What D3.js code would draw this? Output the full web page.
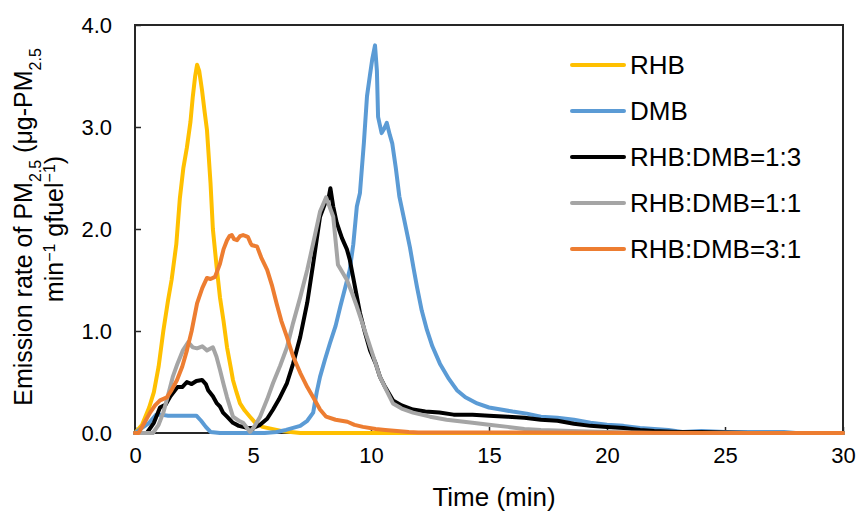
<!DOCTYPE html>
<html lang="en">
<head>
    <meta charset="UTF-8">
    <title>Emission rate of PM2.5</title>
    <style>
        body{
            margin: 0;
            background: #fff;
        }
        #main{
            width: 858px;
            height: 511px;
        }
        text{
            font-family: "Liberation Sans", Arial, sans-serif;
            fill: #000;
        }
    </style>
</head>
<body>
<div id="main"></div>
<script src="https://d3js.org/d3.v7.min.js"></script>
<script>
    /*===========1-data===========*/
    const seriesNames=['RHB','DMB','RHB:DMB=1:3','RHB:DMB=1:1','RHB:DMB=3:1']
    const seriesColors=['#FFC000','#5B9BD5','#000000','#A5A5A5','#ED7D31']

    /*time (min) and emission rate*/
    const rhbTime=[0,0.3,0.6,0.8,1.0,1.2,1.4,1.55,1.75,1.9,2.05,2.2,2.35,2.45,2.55,2.63,2.72,2.84,2.95,3.05,3.2,3.3,3.45,3.6,3.75,3.9,4.05,4.15,4.3,4.45,4.65,4.87,5.1,5.4,5.8,6.2,6.6,7.0,30]
    const rhbRate=[0,0.08,0.25,0.4,0.65,1.0,1.3,1.5,1.85,2.3,2.6,2.8,3.05,3.3,3.5,3.61,3.55,3.36,3.15,2.97,2.45,2.0,1.65,1.33,1.1,0.84,0.65,0.52,0.4,0.29,0.22,0.16,0.1,0.06,0.04,0.02,0.01,0,0]

    const dmbTime=[0,0.3,0.6,0.9,1.1,1.4,2.0,2.6,2.8,3.0,3.2,3.6,4.5,5.5,6.0,6.4,6.7,7.0,7.3,7.55,7.7,7.84,8.05,8.26,8.5,8.7,8.9,9.1,9.25,9.4,9.53,9.7,9.83,9.95,10.05,10.17,10.25,10.3,10.45,10.55,10.67,10.8,10.9,11.05,11.2,11.4,11.65,11.8,11.95,12.15,12.37,12.6,12.92,13.3,13.64,14.0,14.5,15.0,15.5,16.0,16.6,17.2,17.9,18.6,19.3,20.0,20.7,21.4,22.0,22.6,23.2,24.0,25.0,26.0,27.5,28,30]
    const dmbRate=[0,0.05,0.1,0.18,0.18,0.17,0.17,0.17,0.12,0.06,0.01,0,0,0,0.01,0.03,0.05,0.07,0.12,0.2,0.4,0.55,0.72,0.88,1.05,1.24,1.42,1.6,1.85,2.22,2.35,2.85,3.3,3.5,3.66,3.8,3.55,3.1,2.94,2.98,3.04,2.92,2.84,2.6,2.32,2.1,1.82,1.62,1.43,1.2,1.01,0.85,0.68,0.53,0.42,0.35,0.29,0.25,0.23,0.21,0.19,0.16,0.15,0.13,0.1,0.08,0.07,0.05,0.04,0.03,0.01,0.02,0.01,0.01,0.01,0,0]

    const mix13Time=[0,0.5,0.8,1.06,1.3,1.5,1.8,2.0,2.2,2.4,2.6,2.84,3.0,3.1,3.3,3.47,3.6,3.73,3.9,4.15,4.4,4.75,5.0,5.3,5.6,5.85,6.1,6.44,6.7,7.0,7.3,7.55,7.84,8.05,8.2,8.28,8.4,8.55,8.77,8.98,9.1,9.24,9.53,9.75,9.96,10.2,10.38,10.6,10.93,11.3,11.78,12.3,12.9,13.5,14.3,15.0,15.8,16.5,17.2,17.9,18.6,19.3,20.0,20.7,21.4,22.0,23.0,24.0,26,30]
    const mix13Rate=[0,0,0.1,0.25,0.28,0.36,0.45,0.45,0.5,0.48,0.51,0.52,0.48,0.42,0.36,0.29,0.26,0.2,0.16,0.1,0.07,0.05,0.05,0.08,0.14,0.23,0.33,0.49,0.68,0.94,1.28,1.66,2.12,2.25,2.3,2.4,2.22,2.06,1.91,1.8,1.7,1.53,1.18,0.98,0.81,0.68,0.55,0.45,0.32,0.27,0.23,0.21,0.2,0.18,0.18,0.17,0.16,0.15,0.13,0.12,0.09,0.07,0.06,0.05,0.03,0.02,0.01,0.01,0,0]

    const mix11Time=[0,0.76,1.0,1.2,1.4,1.6,1.8,2.03,2.25,2.45,2.63,2.85,3.05,3.3,3.45,3.6,3.75,3.9,4.15,4.4,4.58,4.75,4.87,5.05,5.3,5.6,5.85,6.15,6.44,6.7,7.0,7.3,7.55,7.84,8.1,8.4,8.6,8.8,8.98,9.2,9.4,9.6,9.83,10.1,10.38,10.65,10.93,11.3,11.78,12.5,13.2,14.3,15.0,15.8,16.5,17.2,18.5,20,22,30]
    const mix11Rate=[0,0,0.08,0.2,0.37,0.55,0.68,0.81,0.89,0.84,0.83,0.85,0.81,0.84,0.75,0.62,0.48,0.35,0.16,0.12,0.1,0.05,0.01,0.06,0.16,0.33,0.49,0.66,0.84,1.08,1.33,1.6,1.86,2.17,2.31,2.12,1.65,1.57,1.5,1.37,1.24,1.1,0.94,0.75,0.55,0.42,0.29,0.24,0.2,0.16,0.13,0.1,0.08,0.06,0.04,0.03,0.02,0.01,0,0]

    const mix31Time=[0,0.15,0.4,0.64,0.85,1.06,1.35,1.55,1.78,2.0,2.2,2.4,2.63,2.85,3.05,3.2,3.39,3.6,3.75,3.9,4.0,4.1,4.2,4.32,4.45,4.58,4.7,4.79,4.9,4.96,5.17,5.35,5.6,5.8,6.0,6.2,6.44,6.7,7.0,7.3,7.55,7.84,8.1,8.5,9.0,9.3,9.66,10.2,10.6,11.1,11.6,12.0,30]
    const mix31Rate=[0,0,0.1,0.2,0.27,0.32,0.35,0.42,0.52,0.65,0.81,1.0,1.27,1.42,1.52,1.51,1.53,1.66,1.8,1.89,1.93,1.94,1.9,1.89,1.93,1.94,1.93,1.92,1.86,1.84,1.83,1.72,1.6,1.45,1.27,1.1,0.94,0.75,0.59,0.45,0.35,0.23,0.16,0.13,0.11,0.08,0.06,0.04,0.03,0.02,0.01,0.005,0]

    const xTicks=[0,5,10,15,20,25,30]
    const yTicks=[0,1,2,3,4]

    /*pair each time array with its rate array, in legend order*/
    const seriesTimes=[rhbTime,dmbTime,mix13Time,mix11Time,mix31Time]
    const seriesRates=[rhbRate,dmbRate,mix13Rate,mix11Rate,mix31Rate]

    /*===========2-svg===========*/
    const width=858
    const height=511
    const plotLeft=135
    const plotRight=843
    const plotTop=25
    const plotBottom=433

    const svg=d3.select('#main').append('svg')
        .attr('width',width)
        .attr('height',height)
        .attr('viewBox',`0 0 ${width} ${height}`)

    /*===========3-scales===========*/
    const xScale=d3.scaleLinear().domain([0,30]).range([plotLeft,plotRight])
    const yScale=d3.scaleLinear().domain([0,4]).range([plotBottom,plotTop])

    /*===========4-axes (ticks inside the box)===========*/
    const xAxis=svg.append('g')
        .attr('transform',`translate(0,${plotBottom})`)
        .call(d3.axisBottom(xScale).tickValues(xTicks).tickFormat(d3.format('d'))
            .tickSizeInner(-6).tickSizeOuter(0).tickPadding(14))
    xAxis.select('.domain').remove()
    xAxis.selectAll('line').attr('stroke','#262626').attr('stroke-width',1.5)
    xAxis.selectAll('text').style('font-size','22px').attr('fill','#000')

    const yAxis=svg.append('g')
        .attr('transform',`translate(${plotLeft},0)`)
        .call(d3.axisLeft(yScale).tickValues(yTicks).tickFormat(d3.format('.1f'))
            .tickSizeInner(-6).tickSizeOuter(0).tickPadding(23))
    yAxis.select('.domain').remove()
    yAxis.selectAll('line').attr('stroke','#262626').attr('stroke-width',1.5)
    yAxis.selectAll('text').style('font-size','22px').attr('fill','#000')

    /*plot box*/
    svg.append('rect')
        .attr('x',plotLeft)
        .attr('y',plotTop)
        .attr('width',plotRight-plotLeft)
        .attr('height',plotBottom-plotTop)
        .attr('fill','none')
        .attr('stroke','#262626')
        .attr('stroke-width',2)

    /*===========5-lines===========*/
    const lineGen=d3.line()
        .x(d=>xScale(d[0]))
        .y(d=>yScale(d[1]))

    seriesNames.forEach((name,i)=>{
        const pts=seriesTimes[i].map((t,j)=>[t,seriesRates[i][j]])
        svg.append('path')
            .datum(pts)
            .attr('d',lineGen)
            .attr('fill','none')
            .attr('stroke',seriesColors[i])
            .attr('stroke-width',4)
            .attr('stroke-linejoin','round')
            .attr('stroke-linecap','round')
    })

    /*===========6-legend===========*/
    const legend=svg.append('g')
    seriesNames.forEach((name,i)=>{
        const y=65+i*46
        legend.append('line')
            .attr('x1',572).attr('x2',624)
            .attr('y1',y).attr('y2',y)
            .attr('stroke',seriesColors[i])
            .attr('stroke-width',4)
            .attr('stroke-linecap','round')
        legend.append('text')
            .attr('x',630)
            .attr('y',y)
            .attr('dy','0.36em')
            .style('font-size','26px')
            .text(name)
    })

    /*===========7-axis titles===========*/
    svg.append('text')
        .attr('x',(plotLeft+plotRight)/2+5)
        .attr('y',506)
        .attr('text-anchor','middle')
        .style('font-size','26px')
        .text('Time (min)')

    const yTitle=svg.append('text')
        .attr('transform',`translate(32,${(plotTop+plotBottom)/2-2}) rotate(-90)`)
        .attr('text-anchor','middle')
        .style('font-size','25px')
    yTitle.append('tspan').text('Emission rate of PM')
    yTitle.append('tspan').attr('baseline-shift','sub').style('font-size','16px').text('2.5')
    yTitle.append('tspan').text(' (μg-PM')
    yTitle.append('tspan').attr('baseline-shift','sub').style('font-size','16px').text('2.5')

    const yTitle2=svg.append('text')
        .attr('transform',`translate(63,${(plotTop+plotBottom)/2}) rotate(-90)`)
        .attr('text-anchor','middle')
        .style('font-size','25px')
    yTitle2.append('tspan').text('min')
    yTitle2.append('tspan').attr('baseline-shift','super').style('font-size','16px').text('−1')
    yTitle2.append('tspan').text(' gfuel')
    yTitle2.append('tspan').attr('baseline-shift','super').style('font-size','16px').text('−1')
    yTitle2.append('tspan').text(')')
</script>
</body>
</html>
